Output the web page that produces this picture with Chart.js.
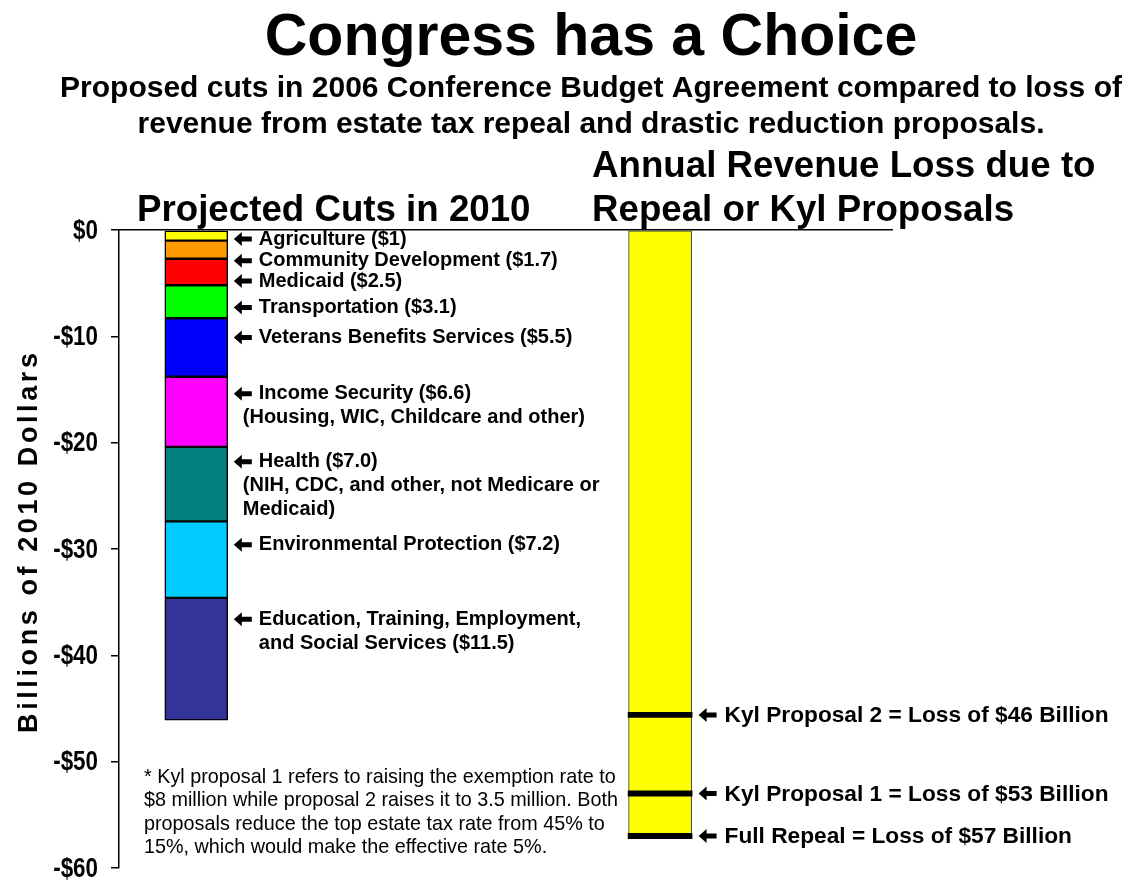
<!DOCTYPE html>
<html>
<head>
<meta charset="utf-8">
<script src="https://cdn.jsdelivr.net/npm/chart.js@4/dist/chart.umd.min.js"></script>
<style>
  body { margin: 0; background: #fff; }
</style>
</head>
<body>
<canvas id="budgetChart" width="1128" height="882"></canvas>
<script>
// projected 2010 cuts, billions (drawn downward from $0)
const cutNames = [
  ['Agriculture ($1)'],
  ['Community Development ($1.7)'],
  ['Medicaid ($2.5)'],
  ['Transportation ($3.1)'],
  ['Veterans Benefits Services ($5.5)'],
  ['Income Security ($6.6)', '(Housing, WIC, Childcare and other)'],
  ['Health ($7.0)', '(NIH, CDC, and other, not Medicare or', 'Medicaid)'],
  ['Environmental Protection ($7.2)'],
  ['Education, Training, Employment,', 'and Social Services ($11.5)']
];
const cutValues = [1, 1.7, 2.5, 3.1, 5.5, 6.6, 7.0, 7.2, 11.5];
const cutColors = ['#FFFF00', '#FF9900', '#FF0000', '#00FF00', '#0000FF', '#FF00FF', '#008080', '#00CCFF', '#333399'];
// where the first line of each label sits (value on the y axis)
const cutLabelAt = [-0.85, -2.9, -4.8, -7.3, -10.1, -15.4, -21.8, -29.6, -36.6];

// annual revenue loss, billions
const lossNames = ['Kyl Proposal 2 = Loss of $46 Billion', 'Kyl Proposal 1 = Loss of $53 Billion', 'Full Repeal = Loss of $57 Billion'];
const lossValues = [45.6, 53, 57];

const yTicks = [0, -10, -20, -30, -40, -50, -60];

const footnote = [
  '* Kyl proposal 1 refers to raising the exemption rate to',
  '$8 million while proposal 2 raises it to 3.5 million. Both',
  'proposals reduce the top estate tax rate from 45% to',
  '15%, which would make the effective rate 5%.'
];

const CUTS_X = 1, LOSS_X = 7;
const FONT = '"Liberation Sans", Arial, sans-serif';

// build datasets: floating bars stacked down from zero
const datasets = [];
let level = 0;
cutValues.forEach((v, i) => {
  datasets.push({
    data: [{ x: CUTS_X, y: [level, level - v] }],
    backgroundColor: cutColors[i],
    borderColor: '#000',
    borderWidth: 1.5,
    borderSkipped: false,
    grouped: false,
    barThickness: 63
  });
  level -= v;
});
datasets.push({
  data: [{ x: LOSS_X, y: [0, -Math.max(...lossValues)] }],
  backgroundColor: '#FFFF00',
  borderColor: '#333',
  borderWidth: 1,
  borderSkipped: false,
  grouped: false,
  barThickness: 63,
  order: 1
});
lossValues.forEach(v => {
  datasets.push({
    data: [{ x: LOSS_X, y: [-v + 0.25, -v - 0.25] }],
    backgroundColor: '#000',
    borderWidth: 0,
    grouped: false,
    barThickness: 64
  });
});

function arrow(ctx, x, y) {
  ctx.beginPath();
  ctx.moveTo(x, y);
  ctx.lineTo(x + 8, y - 7);
  ctx.lineTo(x + 8, y - 2.5);
  ctx.lineTo(x + 18, y - 2.5);
  ctx.lineTo(x + 18, y + 2.5);
  ctx.lineTo(x + 8, y + 2.5);
  ctx.lineTo(x + 8, y + 7);
  ctx.closePath();
  ctx.fill();
}

const labelsPlugin = {
  id: 'labels',
  afterDraw(chart) {
    const ctx = chart.ctx;
    const y = chart.scales.y;
    ctx.save();
    ctx.fillStyle = '#000';

    // headings
    ctx.textAlign = 'center';
    ctx.textBaseline = 'alphabetic';
    ctx.font = 'bold 59px ' + FONT;
    ctx.fillText('Congress has a Choice', 591, 55);
    ctx.font = 'bold 30px ' + FONT;
    ctx.fillText('Proposed cuts in 2006 Conference Budget Agreement compared to loss of', 591, 97);
    ctx.fillText('revenue from estate tax repeal and drastic reduction proposals.', 591, 133);
    ctx.textAlign = 'left';
    ctx.font = 'bold 36.7px ' + FONT;
    ctx.fillText('Projected Cuts in 2010', 137, 221);
    ctx.fillText('Annual Revenue Loss due to', 592, 177);
    ctx.fillText('Repeal or Kyl Proposals', 592, 221);

    // y tick labels, condensed
    ctx.textAlign = 'right';
    ctx.textBaseline = 'middle';
    ctx.font = 'bold 28px ' + FONT;
    y.ticks.forEach(t => {
      const v = t.value;
      ctx.save();
      ctx.translate(98, y.getPixelForValue(v) + 1);
      ctx.scale(0.8, 1);
      ctx.fillText((v < 0 ? '-' : '') + '$' + Math.abs(v), 0, 0);
      ctx.restore();
    });

    // y axis title, spaced letters
    ctx.save();
    ctx.textAlign = 'left';
    ctx.textBaseline = 'alphabetic';
    ctx.translate(37, 543);
    ctx.rotate(-Math.PI / 2);
    ctx.font = 'bold 27px ' + FONT;
    const title = 'Billions of 2010 Dollars';
    const gap = 3.6;
    let w = 0;
    for (const ch of title) w += ctx.measureText(ch).width + gap;
    w -= gap;
    let cx = -w / 2;
    for (const ch of title) {
      ctx.fillText(ch, cx, 0);
      cx += ctx.measureText(ch).width + gap;
    }
    ctx.restore();

    // cut labels
    ctx.textAlign = 'left';
    const cutBar = chart.getDatasetMeta(0).data[0];
    const right = cutBar.x + cutBar.width / 2;
    ctx.textBaseline = 'middle';
    ctx.font = 'bold 20px ' + FONT;
    cutNames.forEach((lines, i) => {
      const py = y.getPixelForValue(cutLabelAt[i]);
      arrow(ctx, right + 6, py);
      lines.forEach((t, j) => {
        const tx = (j === 0 || i === cutNames.length - 1) ? right + 31 : right + 15;
        ctx.fillText(t, tx, py + j * 24);
      });
    });

    // revenue loss labels
    const lossBar = chart.getDatasetMeta(cutValues.length).data[0];
    const right2 = lossBar.x + lossBar.width / 2;
    ctx.font = 'bold 22.7px ' + FONT;
    lossNames.forEach((t, i) => {
      const py = y.getPixelForValue(-lossValues[i]);
      arrow(ctx, right2 + 7, py);
      ctx.fillText(t, right2 + 33, py + 1);
    });

    // footnote
    ctx.textBaseline = 'alphabetic';
    ctx.font = '19.8px ' + FONT;
    footnote.forEach((t, i) => ctx.fillText(t, 144, 783 + i * 23.3));
    ctx.restore();
  }
};

new Chart(document.getElementById('budgetChart'), {
  type: 'bar',
  data: { datasets },
  options: {
    responsive: false,
    animation: false,
    layout: { padding: { top: 230, right: 236, bottom: 14, left: 0 } },
    plugins: { legend: { display: false }, tooltip: { enabled: false } },
    scales: {
      x: {
        type: 'linear', position: 'top', min: 0, max: 10, offset: false,
        ticks: { display: false },
        grid: { display: false },
        border: { color: '#000', width: 1.5 },
        afterFit(s) { s.height = 0; }
      },
      y: {
        min: Math.min(...yTicks), max: Math.max(...yTicks),
        afterBuildTicks(s) { s.ticks = yTicks.map(v => ({ value: v })); },
        ticks: { display: false },
        grid: { drawOnChartArea: false, tickLength: 8, color: '#000', lineWidth: 1.5 },
        border: { color: '#000', width: 1.5 },
        afterFit(s) { s.width = 119; }
      }
    }
  },
  plugins: [labelsPlugin]
});
</script>
</body>
</html>
